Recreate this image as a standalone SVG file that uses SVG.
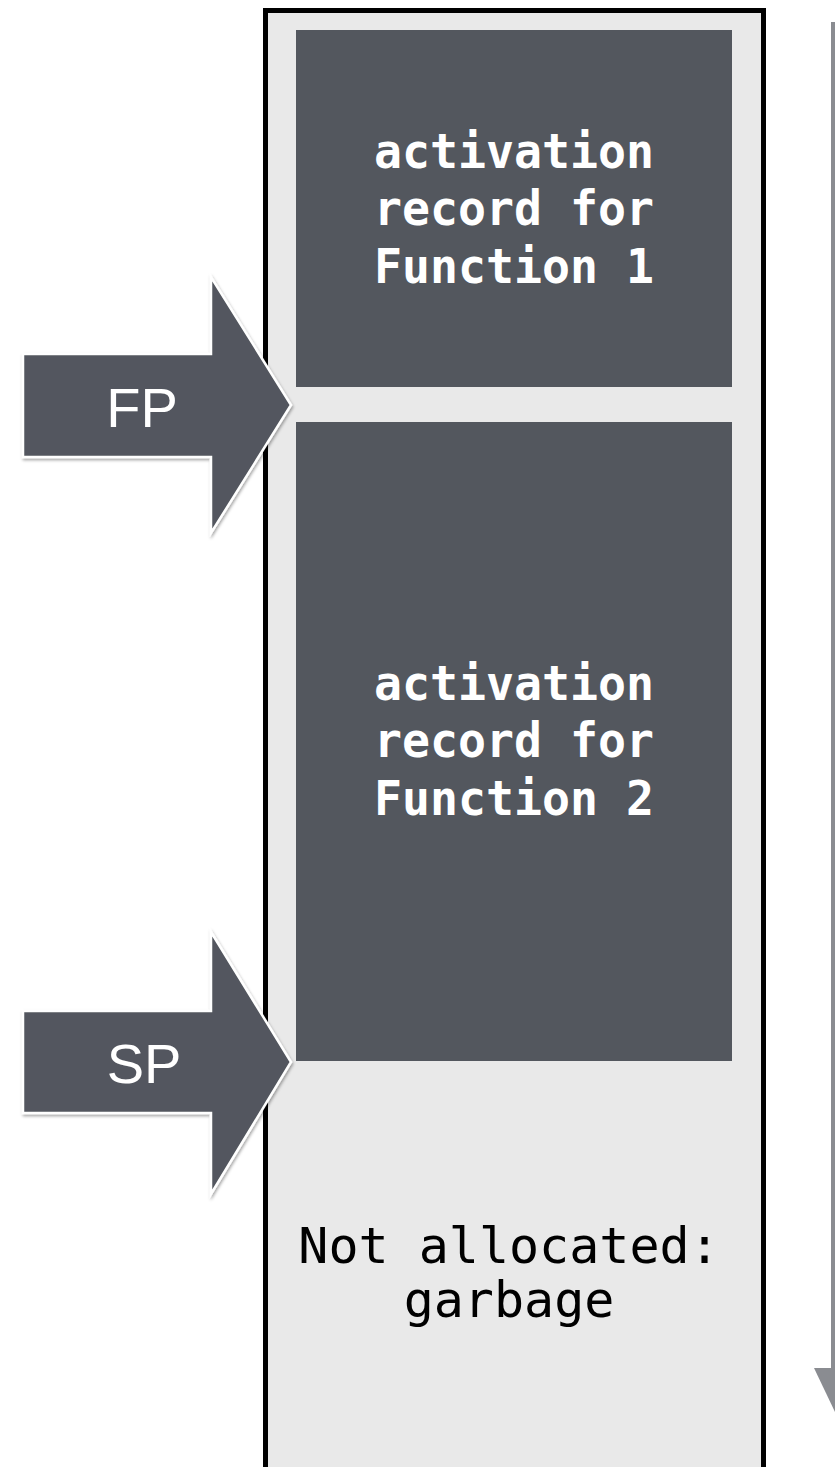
<svg xmlns="http://www.w3.org/2000/svg" width="835" height="1467" viewBox="0 0 835 1467">
  <defs>
    <filter id="shadow" x="-10%" y="-10%" width="130%" height="130%">
      <feDropShadow dx="1" dy="2" stdDeviation="1.5" flood-color="#000" flood-opacity="0.35"/>
    </filter>
    <style>
      .record { fill: #53575e; }
      .boxtext { font-family: "DejaVu Sans Mono", "Liberation Mono", monospace; font-weight: bold; font-size: 48px; fill: #ffffff; text-anchor: middle; }
      .plain { font-family: "DejaVu Sans Mono", "Liberation Mono", monospace; font-size: 50px; fill: #000000; text-anchor: middle; }
      .ptr { fill: #53575e; stroke: #ffffff; stroke-width: 2.5; stroke-linejoin: miter; filter: url(#shadow); }
      .ptrtext { font-family: "Liberation Sans", Arial, sans-serif; font-size: 56px; fill: #ffffff; text-anchor: middle; }
    </style>
  </defs>
  <rect width="835" height="1467" fill="#ffffff"/>

  <g id="stack">
    <rect x="265.5" y="10.5" width="498" height="1470" fill="#e9e9e9" stroke="#000000" stroke-width="5"/>
  </g>

  <g id="record1">
    <rect class="record" x="296" y="30" width="436" height="357"/>
    <text class="boxtext" x="514" y="168" textLength="280" lengthAdjust="spacingAndGlyphs">activation</text>
    <text class="boxtext" x="514" y="225" textLength="280" lengthAdjust="spacingAndGlyphs">record for</text>
    <text class="boxtext" x="514" y="283" textLength="280" lengthAdjust="spacingAndGlyphs">Function 1</text>
  </g>

  <g id="record2">
    <rect class="record" x="296" y="422" width="436" height="639"/>
    <text class="boxtext" x="514" y="700" textLength="280" lengthAdjust="spacingAndGlyphs">activation</text>
    <text class="boxtext" x="514" y="757" textLength="280" lengthAdjust="spacingAndGlyphs">record for</text>
    <text class="boxtext" x="514" y="815" textLength="280" lengthAdjust="spacingAndGlyphs">Function 2</text>
  </g>

  <g id="garbage">
    <text class="plain" x="509" y="1263">Not allocated:</text>
    <text class="plain" x="509" y="1317">garbage</text>
  </g>

  <g id="connectors">
    <rect x="831" y="22" width="15" height="1347" fill="#8a8c91"/>
    <polygon points="814,1368 878,1368 846,1435" fill="#8a8c91"/>
  </g>

  <g id="fp">
    <polygon class="ptr" points="23,354 211,354 211,277 291,405 211,533 211,457 23,457"/>
    <text class="ptrtext" x="142" y="427">FP</text>
  </g>

  <g id="sp">
    <polygon class="ptr" points="23,1011 211,1011 211,932 291,1062 211,1194 211,1113 23,1113"/>
    <text class="ptrtext" x="144" y="1083">SP</text>
  </g>
</svg>
